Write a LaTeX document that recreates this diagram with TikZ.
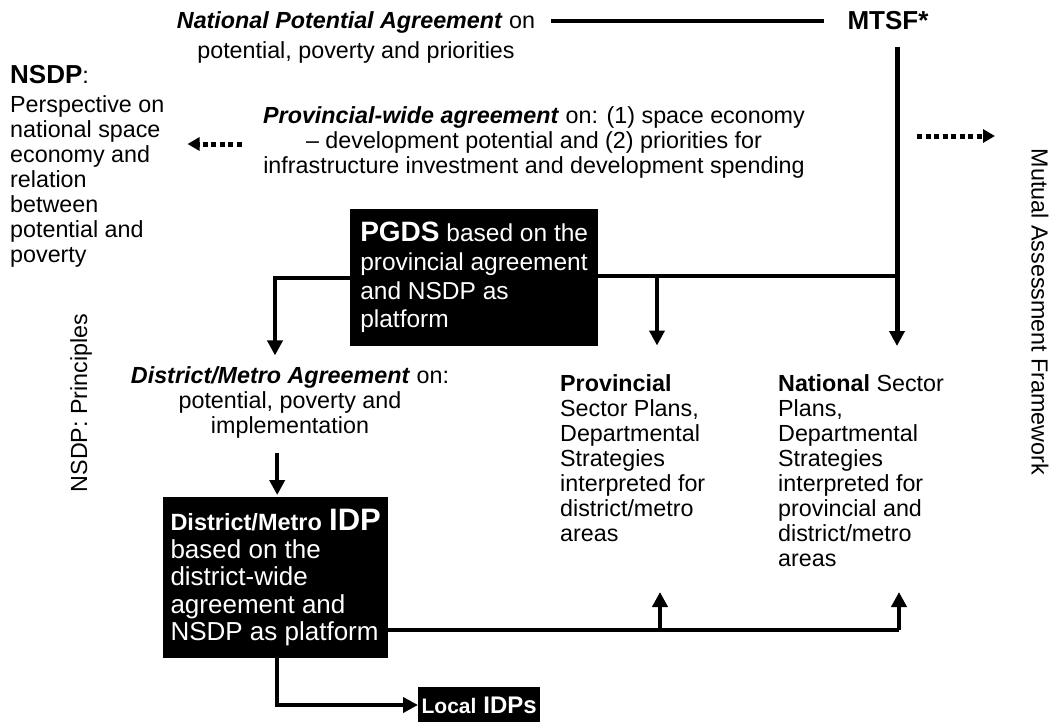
\documentclass[tikz,border=0pt]{standalone}
\usepackage{fontspec}
\setmainfont{Liberation Sans}
\usetikzlibrary{arrows.meta,calc}
\begin{document}
\begin{tikzpicture}[x=1pt,y=-1pt,
  txt/.style={inner sep=0pt, font=\fontsize{23.3}{25}\selectfont},
  blk/.style={fill=black, text=white, inner sep=0pt, anchor=north west},
  conn/.style={line width=4pt},
  arr/.style={line width=4pt, -{Triangle[width=15pt,length=15pt]}},
  dotarr/.style={line width=5pt, dash pattern=on 5pt off 3.5pt, -{Triangle[width=13pt,length=12pt]}},
]
\useasboundingbox (0,0) rectangle (1058,721);

% texts
\node[txt, align=center, font=\fontsize{23.3}{30}\selectfont] (npa) at (356,37)
  {\textbf{\textit{National Potential Agreement}} on\\potential, poverty and priorities};
\node[txt, font=\bfseries\fontsize{26}{28}\selectfont] (mtsf) at (888,21) {MTSF*};
\node[txt, align=left, anchor=north west] (nsdp) at (10,65)
  {{\bfseries\fontsize{26}{25}\selectfont NSDP}:\\[4pt] Perspective on\\ national space\\ economy and\\ relation\\ between\\ potential and\\ poverty};
\node[txt, align=center] (pwa) at (534,142.5)
  {\textbf{\textit{Provincial-wide agreement}} on: (1) space economy\\ – development potential and (2) priorities for\\ infrastructure investment and development spending};
\node[blk, align=left, minimum width=248pt, minimum height=137pt,
      font=\fontsize{24.5}{28.7}\selectfont] (pgds) at (350,209)
  {{\bfseries\fontsize{28}{30}\selectfont PGDS} based on the\\ provincial agreement\\ and NSDP as\\ platform};
\node[txt, align=center] (dma) at (290,402.5)
  {\textbf{\textit{District/Metro Agreement}} on:\\ potential, poverty and\\ implementation};
\node[blk, align=left, minimum width=225pt, minimum height=161pt,
      font=\fontsize{26}{27.5}\selectfont] (idp) at (163,497)
  {{\bfseries\fontsize{23.5}{24}\selectfont District/Metro} {\bfseries\fontsize{31}{30}\selectfont IDP}\\ based on the\\ district-wide\\ agreement and\\ NSDP as platform};
\node[txt, align=left, anchor=north west] (prov) at (560,374.5)
  {\textbf{Provincial}\\ Sector Plans,\\ Departmental\\ Strategies\\ interpreted for\\ district/metro\\ areas};
\node[txt, align=left, anchor=north west] (natl) at (778,374)
  {\textbf{National} Sector\\ Plans,\\ Departmental\\ Strategies\\ interpreted for\\ provincial and\\ district/metro\\ areas};
\node[blk, anchor=west, minimum width=122pt, minimum height=36pt] (local) at (418,705)
  {{\bfseries\fontsize{21}{22}\selectfont Local}\hspace{7pt}{\bfseries\fontsize{24}{24}\selectfont IDPs}};
\node[txt, rotate=90] (prin) at (81,403) {NSDP: Principles};
\node[txt, rotate=-90] (maf) at (1040,312) {Mutual Assessment Framework};

% junctions
\coordinate (jR) at (897,276);
\coordinate (jP) at (657,276);
\coordinate (jL) at (275,278);
\coordinate (jB) at (899,630);
\coordinate (jB2) at (660,630);
\coordinate (ptip) at (660,592);
\coordinate (ntip) at (899,592);
\coordinate (dR1) at (917,136);
\coordinate (dR2) at (995,136);

% connectors
\draw[conn] ($(npa.east |- mtsf.center)+(16,0)$) -- ($(mtsf.west)+(-23,0)$);
\draw[arr, line width=5pt] ($(mtsf.south)+(9,17)$) -- ($(natl.north -| jR)+(0,-28)$);
\draw[conn] (pgds.east |- jR) -- (jR);
\draw[arr] (jP) -- ($(prov.north -| jP)+(0,-29)$);
\draw[arr] (pgds.west |- jL) -| ($(dma.north -| jL)+(0,-11)$);
\draw[arr] ($(dma.south -| idp.north)+(1.5,14)$) -- ($(idp.north)+(1.5,-2)$);
\draw[conn] (idp.east |- jB) -- (jB);
\draw[arr] (jB2) -- (ptip);
\draw[arr] (jB) -- (ntip);
\draw[arr] ($(idp.south)+(1.5,0)$) |- (local.west);
\draw[dotarr] ($(pwa.west)+(-21,1.5)$) -- ($(nsdp.east |- pwa.west)+(23,1.5)$);
\draw[dotarr] (dR1) -- (dR2);
\end{tikzpicture}
\end{document}
